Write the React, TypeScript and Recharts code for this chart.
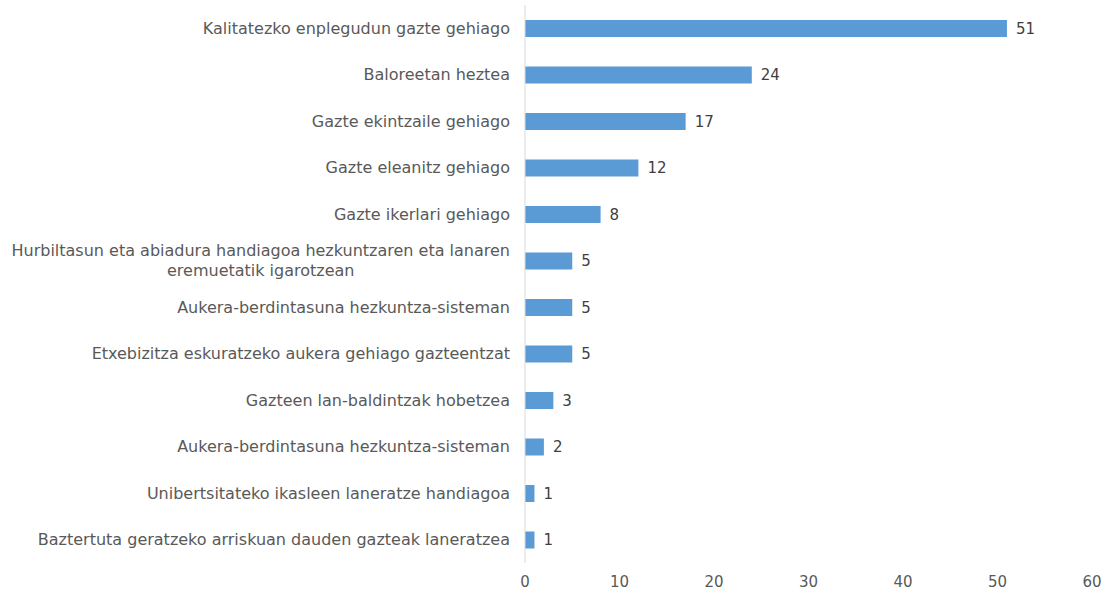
import { BarChart, Bar, XAxis, YAxis, LabelList } from "recharts";

const categories = [
  "Kalitatezko enplegudun gazte gehiago",
  "Baloreetan heztea",
  "Gazte ekintzaile gehiago",
  "Gazte eleanitz gehiago",
  "Gazte ikerlari gehiago",
  "Hurbiltasun eta abiadura handiagoa hezkuntzaren eta lanaren\neremuetatik igarotzean",
  "Aukera-berdintasuna hezkuntza-sisteman",
  "Etxebizitza eskuratzeko aukera gehiago gazteentzat",
  "Gazteen lan-baldintzak hobetzea",
  "Aukera-berdintasuna hezkuntza-sisteman ",
  "Unibertsitateko ikasleen laneratze handiagoa",
  "Baztertuta geratzeko arriskuan dauden gazteak laneratzea",
];

const values = [51, 24, 17, 12, 8, 5, 5, 5, 3, 2, 1, 1];

const xTicks = [0, 10, 20, 30, 40, 50, 60];

const data = categories.map((name, i) => ({ name, value: values[i] }));

const FONT = "DejaVu Sans, Verdana, sans-serif";
const CAT_SIZE = 16;

let ctx: CanvasRenderingContext2D | null = null;
function measure(s: string) {
  if (!ctx) ctx = document.createElement("canvas").getContext("2d");
  if (!ctx) return s.length * 9.5;
  ctx.font = `${CAT_SIZE}px ${FONT}`;
  return ctx.measureText(s).width;
}

function CategoryTick(props: any) {
  const { x, y, payload } = props;
  const lines = String(payload.value).split("\n");
  if (lines.length === 1) {
    return (
      <text x={x} y={y} dy="0.35em" textAnchor="end" fill="#595959" fontSize={CAT_SIZE} fontFamily={FONT}>
        {lines[0]}
      </text>
    );
  }
  const w = Math.max(...lines.map(measure));
  const cx = x - w / 2;
  const lh = 20;
  const start = y - ((lines.length - 1) * lh) / 2;
  return (
    <text x={cx} y={start} textAnchor="middle" fill="#595959" fontSize={CAT_SIZE} fontFamily={FONT}>
      {lines.map((l, i) => (
        <tspan key={i} x={cx} y={start + i * lh} dy="0.35em">
          {l}
        </tspan>
      ))}
    </text>
  );
}

export default function App() {
  return (
    <div style={{ position: "absolute", left: 0, top: 0, background: "#fff" }}>
      <BarChart
        width={1110}
        height={593}
        data={data}
        layout="vertical"
        margin={{ top: 5, right: 18, bottom: 0, left: 0 }}
      >
        <XAxis
          type="number"
          domain={[0, 60]}
          ticks={xTicks}
          axisLine={false}
          tickLine={false}
          tickMargin={7}
          height={30}
          tick={{ fill: "#595959", fontSize: 15, fontFamily: FONT }}
        />
        <YAxis
          type="category"
          dataKey="name"
          width={525}
          axisLine={{ stroke: "#d9d9d9" }}
          tickLine={false}
          tick={<CategoryTick />}
          tickMargin={9}
          interval={0}
        />
        <Bar dataKey="value" fill="#5b9bd5" barSize={17} isAnimationActive={false}>
          <LabelList
            dataKey="value"
            position="right"
            offset={9}
            fill="#404040"
            fontSize={15}
            fontFamily={FONT}
          />
        </Bar>
      </BarChart>
    </div>
  );
}
